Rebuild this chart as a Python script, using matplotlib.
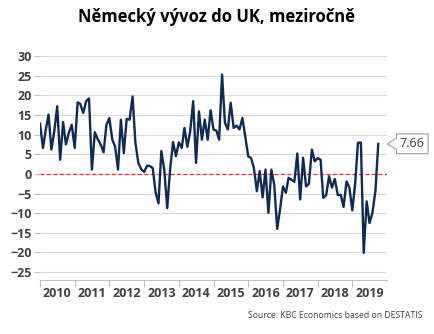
import numpy as np
import pandas as pd
import matplotlib
matplotlib.use('Agg')
import matplotlib.pyplot as plt
from matplotlib.path import Path

plt.rcParams['font.family'] = ['Open Sans', 'DejaVu Sans']

# German exports to the UK, y/y change in %, monthly from Jan 2010
months = pd.date_range('2010-01-01', periods=118, freq='MS')
yoy = [
    12.8, 6.6, 11.0, 15.1, 6.2, 11.0, 17.2, 3.6, 13.2, 7.5, 10.5, 12.5,      # 2010
    6.6, 18.2, 17.8, 15.5, 18.5, 19.2, 1.1, 10.6, 8.8, 7.5, 5.5, 12.5,       # 2011
    14.2, 8.7, 7.0, 1.1, 13.8, 5.3, 14.0, 13.8, 19.7, 7.9, 2.8, 1.2,         # 2012
    0.5, 2.1, 2.0, 1.5, -4.6, -7.5, 5.8, 1.0, -8.7, 1.1, 8.1, 4.5,           # 2013
    8.0, 6.6, 11.7, 6.9, 10.9, 18.5, 2.8, 15.9, 8.7, 13.8, 8.7, 16.2,        # 2014
    11.3, 11.0, 8.7, 25.3, 13.0, 11.3, 18.1, 11.7, 12.3, 11.3, 14.2, 9.6,    # 2015
    4.5, 4.0, 1.5, -4.4, 0.7, -6.0, 1.1, -9.9, 1.1, -2.7, -14.0, -9.1,       # 2016
    -3.2, -4.8, -1.0, -1.5, -2.0, 5.2, -6.5, 4.1, -3.2, -2.5, 6.2, 3.2,      # 2017
    4.0, 3.6, -6.1, -5.4, -0.6, -3.5, -1.3, -5.4, -5.3, -8.4, -1.9, -3.5,    # 2018
    -9.3, -2.2, 7.9, 8.0, -20.1, -7.0, -12.5, -9.9, -4.4, 7.66,              # 2019
]
years = list(range(2010, 2020))
yticks = list(range(-25, 31, 5))

title = 'Německý vývoz do UK, meziročně'
source = 'Source: KBC Economics based on DESTATIS'

line_col = '#0e2b55'
text_col = '#404040'
grid_col = '#d9d9d9'


def callout(x0, y0, width, height, mutation_size):
    # box with a small pointer on its left side
    pad = 0.27 * mutation_size
    x0, y0 = x0 - pad, y0 - pad
    x1, y1 = x0 + width + 2 * pad, y0 + height + 2 * pad
    ym = (y0 + y1) / 2
    tip = 0.75 * mutation_size
    half = 0.45 * mutation_size
    verts = [(x0, y0), (x1, y0), (x1, y1), (x0, y1), (x0, ym + half),
             (x0 - tip, ym), (x0, ym - half), (x0, y0), (x0, y0)]
    codes = [Path.MOVETO] + [Path.LINETO] * 7 + [Path.CLOSEPOLY]
    return Path(verts, codes)


fig = plt.figure(figsize=(4.34, 3.34), dpi=100)
ax = fig.add_axes([0.0922, 0.1617, 0.7995, 0.6706])

ax.set_yticks(yticks)
ax.grid(axis='y', color=grid_col, lw=0.8)
ax.set_axisbelow(True)
ax.axhline(0, color='#e0302a', lw=0.9, ls=(0, (3, 2.2)), zorder=2)
ax.plot(months, yoy, color=line_col, lw=1.7, zorder=3)

ax.set_ylim(-27, 30)
ax.set_xlim(pd.Timestamp('2010-01-01'), pd.Timestamp('2020-01-01'))

for s in ['left', 'top', 'right']:
    ax.spines[s].set_visible(False)
ax.spines['bottom'].set_color('#bfbfbf')
ax.spines['bottom'].set_linewidth(0.8)

ax.tick_params(axis='y', length=4, color='#bfbfbf', pad=2, labelsize=9,
               labelcolor=text_col)
for lab in ax.get_yticklabels():
    lab.set_fontweight('bold')

# year boundaries as ticks, labels centred inside each year
ax.set_xticks([pd.Timestamp(f'{y}-01-01') for y in years])
ax.set_xticklabels([])
ax.set_xticks([pd.Timestamp(f'{y}-07-01') for y in years], minor=True)
ax.set_xticklabels([str(y) for y in years], minor=True, fontweight='bold')
ax.tick_params(axis='x', which='major', length=5, color='#bfbfbf', width=0.8)
ax.tick_params(axis='x', which='minor', length=0, pad=5, labelsize=9,
               labelcolor=text_col)

ax.annotate(f'{yoy[-1]:.2f}', xy=(months[-1], yoy[-1]), xytext=(24.5, 0),
            textcoords='offset points', ha='center', va='center',
            fontsize=9, color=text_col, annotation_clip=False,
            bbox=dict(boxstyle=callout, fc='white', ec='#8ea0b4', lw=0.8))

fig.text(0.5, 0.949, title, ha='center', va='center', fontsize=12,
         fontweight='bold', color='black')
fig.text(423 / 434, 1 - 315 / 334, source, ha='right', va='center',
         fontsize=6.2, color=text_col)

fig.savefig('out.png', dpi=100)
